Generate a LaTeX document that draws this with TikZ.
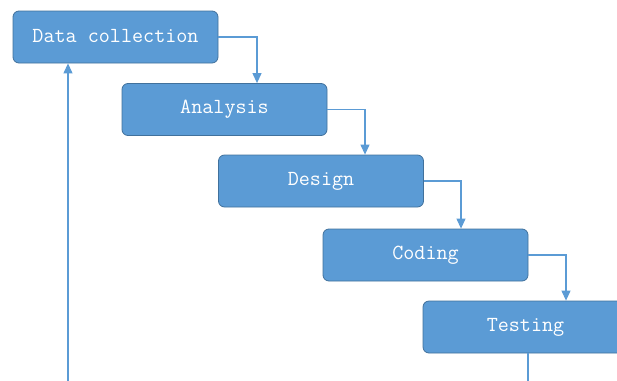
\documentclass[tikz,border=0pt]{standalone}
\usetikzlibrary{arrows.meta}
\definecolor{boxfill}{HTML}{5B9BD5}
\definecolor{boxline}{HTML}{41719C}
\definecolor{arr}{HTML}{5B9BD5}
\tikzset{
  stage/.style={draw=boxline, line width=0.8pt, fill=boxfill, rounded corners=6pt,
    minimum width=205pt, minimum height=52pt, inner sep=0pt,
    text=white, font=\ttfamily\fontsize{21.5}{24}\selectfont},
  flow/.style={draw=arr, line width=1.1pt, -{Triangle[width=9pt,length=10pt]}}
}
\begin{document}
\begin{tikzpicture}[x=1pt,y=-1pt]
\useasboundingbox (0,0) rectangle (617,380);
\clip (0,0) rectangle (617,380);
\node[stage] (dc) at (115.5,37) {\raisebox{1.5pt}{Data collection}};
\node[stage] (an) at (224.5,109.5) {\raisebox{1.5pt}{Analysis}};
\node[stage] (de) at (321,181) {\raisebox{1.5pt}{Design}};
\node[stage] (co) at (425.5,255) {\raisebox{1.5pt}{Coding}};
\node[stage] (te) at (525.5,327) {\raisebox{1.5pt}{Testing}};
\coordinate (bot) at (68,385);
\coordinate (tbot) at (528,385);
\draw[flow] (dc.east) -| (an.north -| 257,0);
\draw[flow] (an.east) -| (de.north -| 365,0);
\draw[flow] (de.east) -| (co.north -| 461,0);
\draw[flow] (co.east) -| (te.north -| 566,0);
\draw[draw=arr, line width=1.1pt] (te.south -| tbot) -- (tbot);
\draw[flow] (bot) -- (dc.south -| bot);
\end{tikzpicture}
\end{document}
